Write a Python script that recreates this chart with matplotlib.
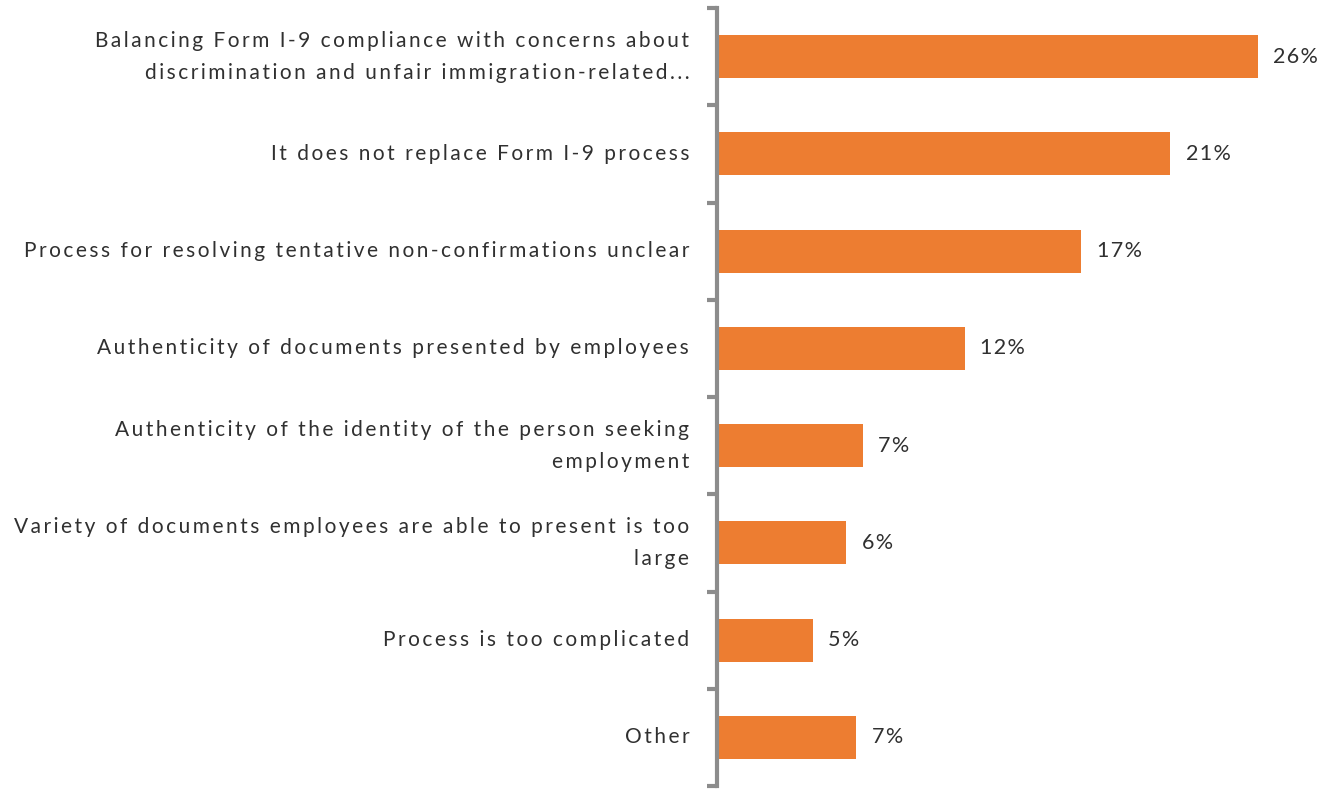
import numpy as np
import matplotlib.pyplot as plt

# Survey responses (share of respondents, %)
categories = [
    "Balancing Form I-9 compliance with concerns about\ndiscrimination and unfair immigration-related...",
    "It does not replace Form I-9 process",
    "Process for resolving tentative non-confirmations unclear",
    "Authenticity of documents presented by employees",
    "Authenticity of the identity of the person seeking\nemployment",
    "Variety of documents employees are able to present is too\nlarge",
    "Process is too complicated",
    "Other",
]
values = [26.0, 21.8, 17.5, 11.9, 7.0, 6.2, 4.6, 6.7]
labels = ["26%", "21%", "17%", "12%", "7%", "6%", "5%", "7%"]

bar_color = "#ED7D31"
axis_color = "#8C8C8C"
text_color = "#303030"

plt.rcParams['font.family'] = ['Lato', 'DejaVu Sans']


def spaced(s, gap="\u200a\u200a"):
    # wide letter spacing like the original deck font
    return "\n".join(gap.join(line) for line in s.split("\n"))


fig = plt.figure(figsize=(13.38, 7.89), dpi=100)
ax = fig.add_axes([717 / 1338, 3 / 789, 613 / 1338, 778 / 789])

y = np.arange(len(categories))
ax.barh(y, values, height=0.44, color=bar_color, align='center')

for yi, v, lab in zip(y, values, labels):
    ax.text(v + 0.75, yi, spaced(lab, "\u200a"), va='center', ha='left',
            fontsize=15.5, color=text_color)

ax.set_ylim(len(categories) - 0.5, -0.5)
ax.set_xlim(0, 29.47)

# category tick marks sit between bars
ax.set_yticks(np.arange(len(categories) + 1) - 0.5, minor=False)
ax.set_yticklabels([])
ax.tick_params(axis='y', which='major', length=7, width=3, color=axis_color,
               direction='out')
ax.set_yticks(y, minor=True)
ax.set_yticklabels([spaced(c) for c in categories], minor=True, fontsize=15,
                   color=text_color, linespacing=1.75, ha='right')
ax.tick_params(axis='y', which='minor', length=0, pad=20)
for lbl in ax.get_yticklabels(minor=True):
    lbl.set_va('center')

ax.set_xticks([])
for s in ['top', 'right', 'bottom']:
    ax.spines[s].set_visible(False)
ax.spines['left'].set_color(axis_color)
ax.spines['left'].set_linewidth(3)

fig.savefig("out.png", dpi=100)
